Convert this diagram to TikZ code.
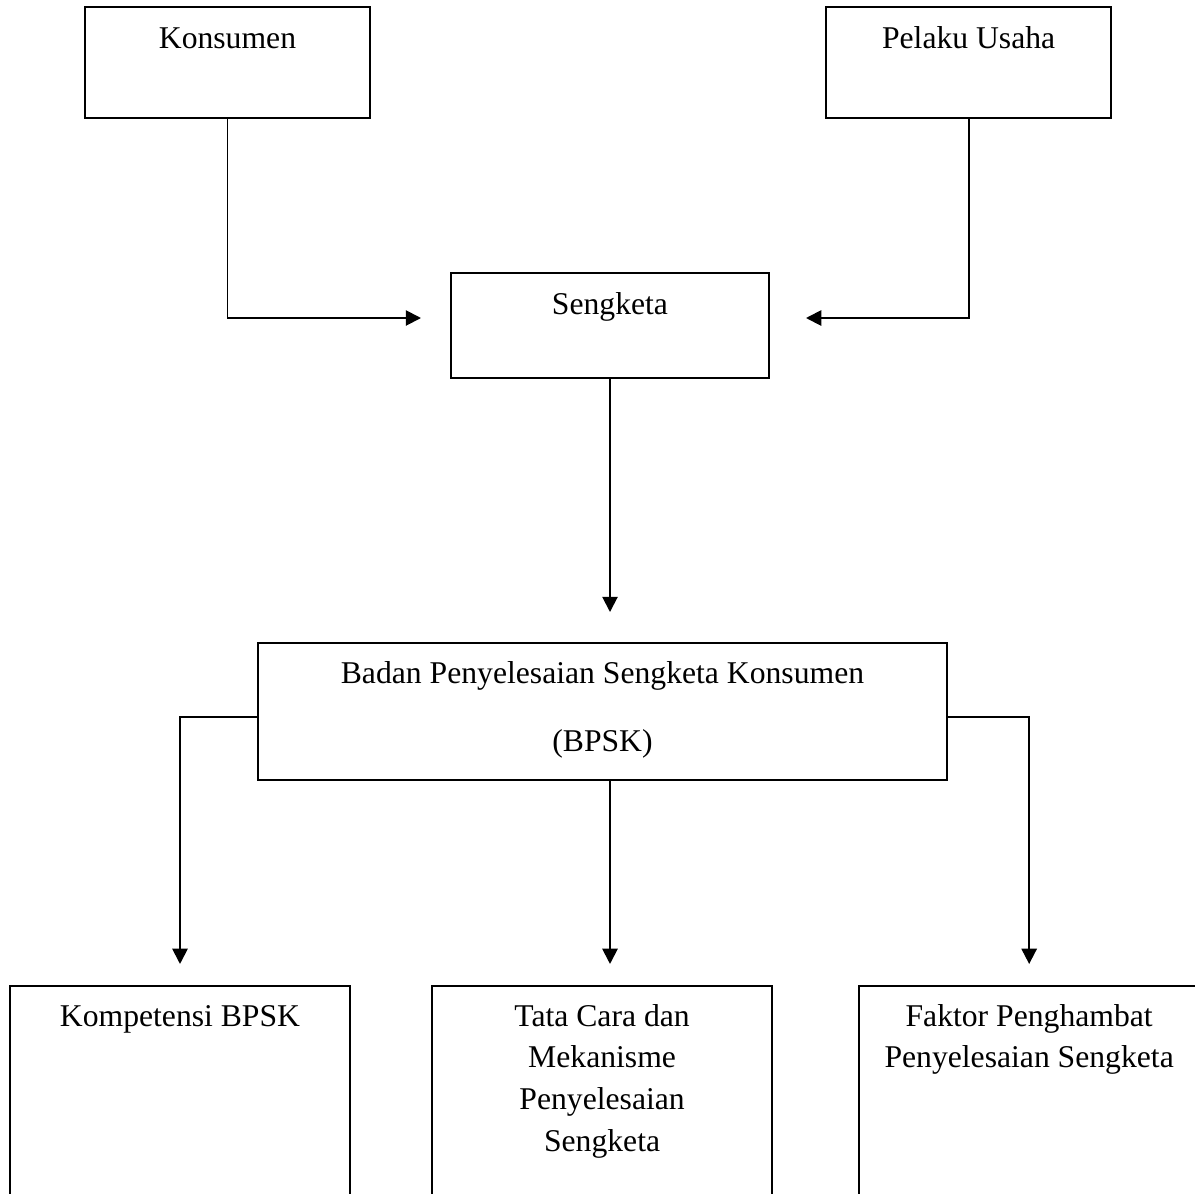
\documentclass[tikz,border=0pt]{standalone}
\usepackage{fontspec}
\setmainfont{Liberation Serif}
\usetikzlibrary{arrows.meta,positioning}

\begin{document}
\begin{tikzpicture}[x=0.0136cm, y=-0.0136cm, line width=0.75pt, >={Triangle[length=5.9pt, width=5.9pt]}]
            \tikzstyle{block} = [draw, rectangle, inner sep=0pt, align=flush center, font=\fontsize{12.25}{16.2}\selectfont]
            \tikzstyle{party} = [block, text width=3.876cm, text height=0.558cm, text depth=0.952cm]
            \tikzstyle{leaf} = [block, text width=4.624cm, text height=0.544cm, text depth=2.91cm]

            \useasboundingbox (0,0) rectangle (1195,1193);
            \clip (0,0) rectangle (1195,1193);

            \node [party] (konsumen) at (227.5,62.5) {Konsumen};
            \node [party, right = 6.174cm of konsumen] (pelaku) {Pelaku Usaha};
            \node [block, text width=4.325cm, text height=0.571cm, text depth=0.857cm] (sengketa) at (610,325.5) {Sengketa};
            \node [block, text width=9.37cm, text height=0.544cm, text depth=1.319cm, font=\fontsize{12.25}{26.6}\selectfont] (bpsk) at (602.5,711.5) {Badan Penyelesaian Sengketa Konsumen\\(BPSK)};
            \node [leaf] (kompetensi) at (180,1113) {Kompetensi BPSK};
            \node [leaf, right = 1.088cm of kompetensi] (tatacara) {Tata Cara dan\\Mekanisme\\Penyelesaian\\Sengketa};
            \node [leaf, right = 1.156cm of tatacara] (faktor) {Faktor Penghambat\\Penyelesaian Sengketa};
            \coordinate (inL) at (421,318);
            \coordinate (inR) at (806,318);

            \draw [->] (konsumen.south) |- (inL);
            \draw [->] (pelaku.south) |- (inR);
            \draw [->, shorten >=0.408cm] (sengketa.south) -- (sengketa.south |- bpsk.north);
            \draw [->, shorten >=0.286cm] ([yshift=-0.075cm]bpsk.west) -| (kompetensi.north);
            \draw [->, shorten >=0.286cm] (sengketa.south |- bpsk.south) -- (sengketa.south |- tatacara.north);
            \draw [->, shorten >=0.286cm] ([yshift=-0.075cm]bpsk.east) -| (faktor.north);
\end{tikzpicture}
\end{document}
